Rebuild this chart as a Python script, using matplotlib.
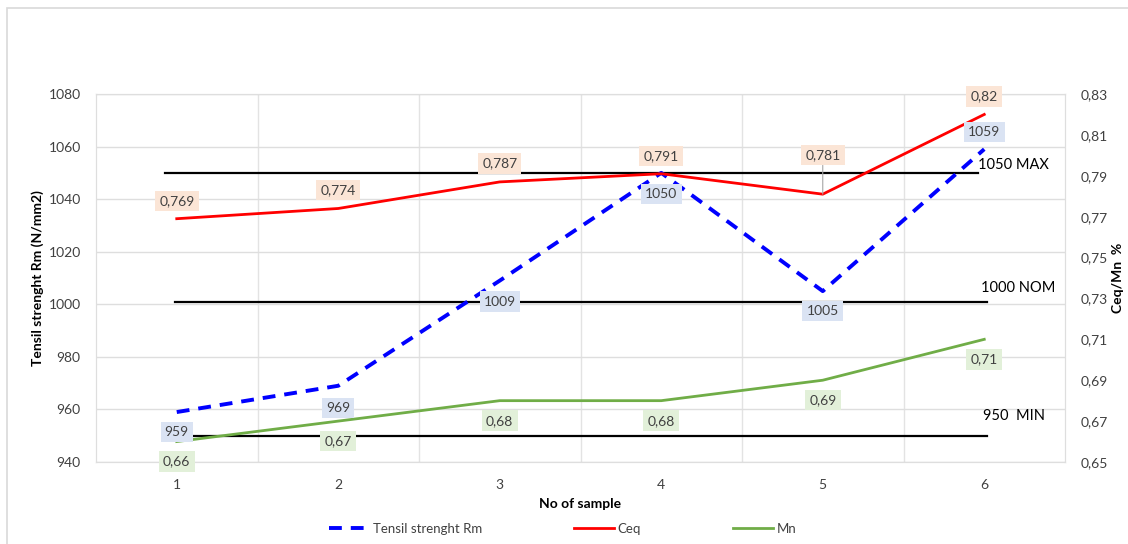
import numpy as np
import matplotlib
matplotlib.use('Agg')
import matplotlib.pyplot as plt
from matplotlib.patches import Rectangle
from matplotlib.ticker import FuncFormatter, MultipleLocator

plt.rcParams['font.family'] = ['Lato', 'DejaVu Sans']

samples = [1, 2, 3, 4, 5, 6]
rm = [959, 969, 1009, 1050, 1005, 1059]
ceq = [0.769, 0.774, 0.787, 0.791, 0.781, 0.82]
mn = [0.66, 0.67, 0.68, 0.68, 0.69, 0.71]
limits = [1050, 1001, 950]
limit_names = ['1050 MAX', '1000 NOM', '950  MIN']
limit_span = [(0.93, 5.96), (0.99, 6.02), (1.0, 6.02)]
limit_text_pos = [(5.96, 1053), (5.98, 1006.2), (5.99, 957.5)]

def comma(v, pos=None):
    return ('%g' % v).replace('.', ',')

fs = 10
fig = plt.figure(figsize=(11.28, 5.44), dpi=100)
ax = fig.add_axes([96/1128, 1-462/544, (1065-96)/1128, (462-94)/544])
ax2 = ax.twinx()

# outer frame (only left / top visible)
fig.add_artist(Rectangle((7/1128, -0.1), 1.2, 1.1 - 8/544, transform=fig.transFigure,
                         fill=False, edgecolor='#D9D9D9', lw=1.2))

ax.set_xlim(0.5, 6.5)
ax.set_ylim(940, 1080)
ax2.set_ylim(0.65, 0.83)
ax.yaxis.set_major_locator(MultipleLocator(20))
ax2.set_yticks(np.arange(0.65, 0.8301, 0.02))
ax2.yaxis.set_major_formatter(FuncFormatter(lambda v, p: ('%.2f' % v).replace('.', ',')))
ax.set_xticks(samples)
ax.set_xticks([1.5, 2.5, 3.5, 4.5, 5.5], minor=True)
ax.grid(True, axis='y', color='#DEDEDE', lw=1)
ax.grid(True, axis='x', which='minor', color='#E3E3E3', lw=1)
ax.set_axisbelow(True)
for a in (ax, ax2):
    for s in a.spines.values():
        s.set_color('#DEDEDE')
    a.tick_params(which='both', length=0, labelsize=fs, colors='#404040')
ax.tick_params(axis='y', pad=11)
ax.tick_params(axis='x', pad=12)
ax2.tick_params(axis='y', pad=11)

for v, (x0, x1) in zip(limits, limit_span):
    ax.plot([x0, x1], [v, v], color='black', lw=1.6, zorder=2)
for name, (tx, ty) in zip(limit_names, limit_text_pos):
    ax.text(tx, ty, name, fontsize=fs + 0.5, va='center', ha='left', color='black')

l1, = ax.plot(samples, rm, color='#0000FF', lw=2.8, dashes=(3.3, 2.3), zorder=4,
              label='Tensil strenght Rm')
l2, = ax2.plot(samples, ceq, color='#FF0000', lw=2.0, zorder=4, label='Ceq')
l3, = ax2.plot(samples, mn, color='#70AD47', lw=2.0, zorder=4, label='Mn')
ax2.set_zorder(ax.get_zorder() + 1)
ax2.patch.set_visible(False)

def tag(a, x, y, txt, dy, fc, arrow=False):
    kw = {}
    if arrow:
        kw['arrowprops'] = dict(arrowstyle='-', color='#A6A6A6', lw=0.8, shrinkA=0, shrinkB=0)
    a.annotate(txt, (x, y), xytext=(0, dy), textcoords='offset pixels', ha='center',
               va='center', fontsize=fs, color='#404040', zorder=6,
               bbox=dict(boxstyle='square,pad=0.3', fc=fc, ec='none'), **kw)

rm_dy = [-20, -22, -21, -21, -20, 17]
for x, v, d in zip(samples, rm, rm_dy):
    tag(ax2, x, 0.65 + (v - 940) / 140 * 0.18, str(v), d, '#DAE3F3')
ceq_dy = [18, 18.5, 18.5, 18, 39, 18]
for x, v, d in zip(samples, ceq, ceq_dy):
    tag(ax2, x, v, comma(v), d, '#FBE5D6', arrow=(d > 30))
for x, v in zip(samples, mn):
    tag(ax2, x, v, comma(v), -20, '#E2F0D9')

ax.set_ylabel('Tensil strenght Rm (N/mm2)', fontsize=fs, fontweight='bold', labelpad=3)
ax2.set_ylabel('Ceq/Mn  %', fontsize=fs, fontweight='bold', labelpad=3)
ax.set_xlabel('No of sample', fontsize=fs, fontweight='bold', labelpad=5)

fig.legend(handles=[l1, l2, l3], loc='center', bbox_to_anchor=(0.499, 1 - 529/544),
           ncol=3, frameon=False, fontsize=9.5, handlelength=3.0, handletextpad=0.3,
           columnspacing=7.0, labelcolor='#404040')

fig.savefig('out.png', dpi=100, facecolor='white')
